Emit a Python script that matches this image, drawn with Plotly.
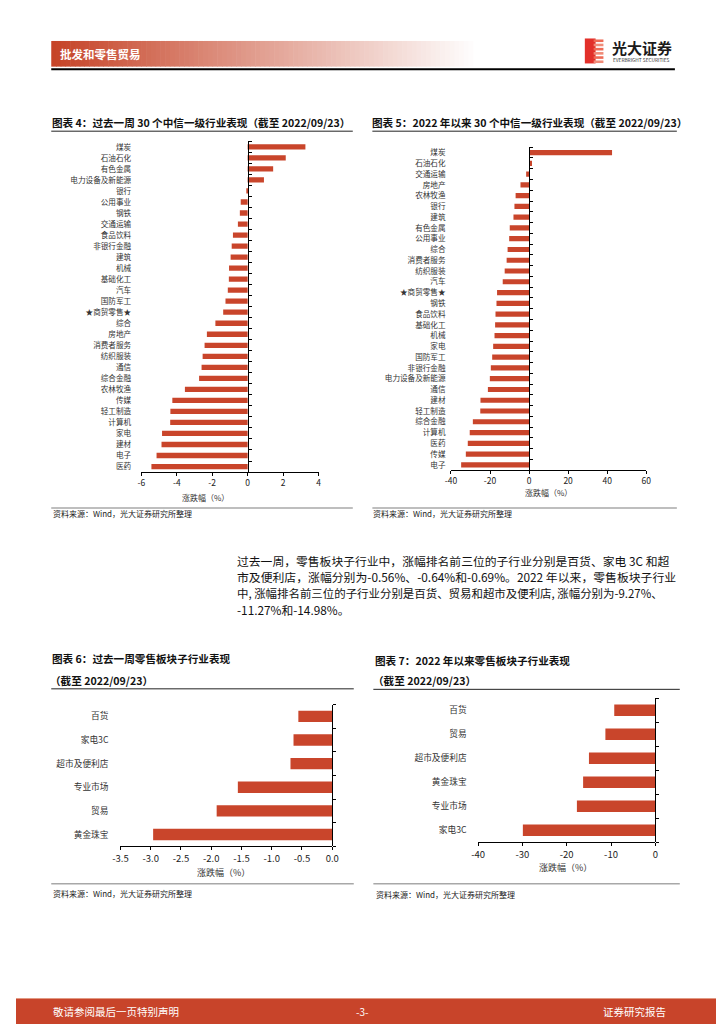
import plotly.graph_objects as go

# The page body has an 8px default margin; the figure is sized and positioned to compensate.
OFF = 8
PAGE_W, PAGE_H = 724, 1024
W, H = PAGE_W - OFF, PAGE_H - OFF
RED = "#C9452B"
FONT = "Noto Sans CJK SC"

# ---------------- data ----------------
week_industries = ["煤炭", "石油石化", "有色金属", "电力设备及新能源", "银行", "公用事业", "钢铁", "交通运输",
                   "食品饮料", "非银行金融", "建筑", "机械", "基础化工", "汽车", "国防军工", "★商贸零售★",
                   "综合", "房地产", "消费者服务", "纺织服装", "通信", "综合金融", "农林牧渔", "传媒",
                   "轻工制造", "计算机", "家电", "建材", "电子", "医药"]
week_returns = [3.26, 2.15, 1.44, 0.92, -0.05, -0.39, -0.44, -0.55, -0.83, -0.90, -0.96, -1.05, -1.06,
                -1.12, -1.25, -1.38, -1.82, -2.30, -2.43, -2.54, -2.60, -2.74, -3.54, -4.25, -4.36,
                -4.37, -4.83, -4.86, -5.14, -5.43]

ytd_industries = ["煤炭", "石油石化", "交通运输", "房地产", "农林牧渔", "银行", "建筑", "有色金属", "公用事业",
                  "综合", "消费者服务", "纺织服装", "汽车", "★商贸零售★", "钢铁", "食品饮料", "基础化工",
                  "机械", "家电", "国防军工", "非银行金融", "电力设备及新能源", "通信", "建材", "轻工制造",
                  "综合金融", "计算机", "医药", "传媒", "电子"]
ytd_returns = [42.5, 1.5, -1.5, -4.4, -6.9, -7.5, -8.0, -9.9, -10.2, -11.0, -11.5, -12.5, -13.5, -16.4,
               -16.7, -17.2, -17.4, -17.7, -18.4, -18.9, -19.6, -20.1, -21.1, -24.9, -25.0, -28.8,
               -30.4, -31.4, -32.4, -34.8]

retail_week_cats = ["百货", "家电3C", "超市及便利店", "专业市场", "贸易", "黄金珠宝"]
retail_week_vals = [-0.56, -0.64, -0.69, -1.56, -1.91, -2.96]

retail_ytd_cats = ["百货", "贸易", "超市及便利店", "黄金珠宝", "专业市场", "家电3C"]
retail_ytd_vals = [-9.27, -11.27, -14.98, -16.3, -17.7, -29.9]

week_ticks = [-6, -4, -2, 0, 2, 4]
ytd_ticks = [-40, -20, 0, 20, 40, 60]
retail_week_ticks = [-3.5, -3.0, -2.5, -2.0, -1.5, -1.0, -0.5, 0.0]
retail_ytd_ticks = [-40, -30, -20, -10, 0]

week_tick_text = ["-6", "-4", "-2", "0", "2", "4"]
ytd_tick_text = ["-40", "-20", "0", "20", "40", "60"]
retail_week_tick_text = ["-3.5", "-3.0", "-2.5", "-2.0", "-1.5", "-1.0", "-0.5", "0.0"]
retail_ytd_tick_text = ["-40", "-30", "-20", "-10", "0"]


def px(x):
    return (x - OFF) / W


def py(y):
    return 1 - (y - OFF) / H


fig = go.Figure()
layout = {}


def add_chart(i, cats, vals, xrange, ticks, ticktext, xpx, ypx, standoff, catsize, ticksize):
    n = len(cats)
    sx = "" if i == 1 else str(i)
    x0, x1 = px(xpx[0]), px(xpx[1])
    zero_pos = x0 + (0 - xrange[0]) / (xrange[1] - xrange[0]) * (x1 - x0)
    fig.add_trace(go.Bar(x=vals, y=list(range(n)), orientation="h", marker_color=RED,
                         marker_line_width=0, xaxis="x" + sx, yaxis="y" + sx,
                         showlegend=False, hoverinfo="x+text", text=cats, textposition="none"))
    layout["xaxis" + sx] = dict(domain=[x0, x1], range=xrange, anchor="y" + sx,
                                tickmode="array", tickvals=ticks, ticktext=ticktext,
                                ticks="outside", ticklen=3, tickcolor="#000", showline=True,
                                linecolor="#000", linewidth=1, showgrid=False, zeroline=False,
                                tickfont=dict(family=FONT, size=ticksize, color="#222"))
    layout["yaxis" + sx] = dict(domain=[py(ypx[1]), py(ypx[0])], range=[n - 0.5, -0.5],
                                anchor="free", position=zero_pos, side="left",
                                tickmode="array", tickvals=list(range(n)), ticktext=cats,
                                ticks="", showline=True, linecolor="#000", linewidth=1,
                                showgrid=False, zeroline=False, ticklabelstandoff=standoff,
                                minor=dict(tickmode="array", tickvals=[k - 0.5 for k in range(n + 1)],
                                           ticks="inside", ticklen=3, tickcolor="#000", showgrid=False),
                                tickfont=dict(family=FONT, size=catsize, color="#333"))


add_chart(1, week_industries, week_returns, [-6, 4], week_ticks, week_tick_text,
          (136, 317), (140.5, 471.5), 115, 7.6, 8.5)
add_chart(2, ytd_industries, ytd_returns, [-40, 60], ytd_ticks, ytd_tick_text,
          (452.3, 651.7), (146.3, 469.7), 82, 7.6, 8.5)
add_chart(3, retail_week_cats, retail_week_vals, [-3.5, 0], retail_week_ticks, retail_week_tick_text,
          (114.7, 331), (704.2, 846.2), 222, 8.7, 9.5)
add_chart(4, retail_ytd_cats, retail_ytd_vals, [-40, 0], retail_ytd_ticks, retail_ytd_tick_text,
          (480, 661), (698, 842), 187, 8.7, 9.5)

shapes = []
annotations = []


def hline(x0, x1, y, color, width):
    shapes.append(dict(type="line", xref="paper", yref="paper", x0=px(x0), x1=px(x1),
                       y0=py(y), y1=py(y), line=dict(color=color, width=width)))


def rect(x0, x1, y0, y1, color):
    shapes.append(dict(type="rect", xref="paper", yref="paper", x0=px(x0), x1=px(x1),
                       y0=py(y1), y1=py(y0), fillcolor=color, line=dict(width=0), layer="below"))


def text(x, y, s, size, color="#000", xanchor="left", bold=False):
    annotations.append(dict(xref="paper", yref="paper", x=px(x), y=py(y), text=("<b>%s</b>" % s) if bold else s,
                            showarrow=False, xanchor=xanchor, yanchor="middle",
                            font=dict(family=FONT, size=size, color=color)))


# ---------- header gradient band ----------
steps = 90
gx0, gx1 = 44, 480
c0 = (198, 68, 40)
for k in range(steps):
    t = k / (steps - 1)
    c = tuple(int(c0[j] + (255 - c0[j]) * t) for j in range(3))
    xa = gx0 + (gx1 - gx0) * k / steps
    xb = gx0 + (gx1 - gx0) * (k + 1) / steps + 0.6
    rect(xa, xb, 40, 65.7, "rgb(%d,%d,%d)" % c)
text(51, 53, "批发和零售贸易", 11.5, "#fff", bold=True)
hline(44, 681, 68.3, "#000", 2)

# ---------- logo ----------
rect(589, 600, 37.5, 62.5, "#E2302A")
for k in range(6):
    yy = 38.5 + k * 4.2
    rect(598, 608, yy, yy + 2.6, "#EE6A55" if k % 2 == 0 else "#F08B78")
text(647, 46.5, "光大证券", 15, "#1a1a1a", xanchor="center", bold=True)
text(646.5, 59, "EVERBRIGHT SECURITIES", 4.8, "#333", xanchor="center")

# ---------- chart titles ----------
text(43, 121.7, "图表 4：过去一周 30 个中信一级行业表现（截至 2022/09/23）", 10.6, "#111", bold=True)
hline(44, 352, 130.3, "#222", 1)
text(370, 121.7, "图表 5：2022 年以来 30 个中信一级行业表现（截至 2022/09/23）", 10.6, "#111", bold=True)
hline(372, 683, 130.3, "#222", 1)

text(43, 658, "图表 6：过去一周零售板块子行业表现", 10.6, "#111", bold=True)
text(41, 680, "（截至 2022/09/23）", 10.6, "#111", bold=True)
hline(44, 353, 688.5, "#222", 1)
text(373, 660, "图表 7：2022 年以来零售板块子行业表现", 10.6, "#111", bold=True)
text(371, 680.5, "（截至 2022/09/23）", 10.6, "#111", bold=True)
hline(373, 686, 689, "#222", 1)

# ---------- axis titles ----------
text(202, 496.7, "涨跌幅（%）", 8, "#333", xanchor="center")
text(552, 491.7, "涨跌幅（%）", 8, "#333", xanchor="center")
text(220, 872, "涨跌幅（%）", 9, "#333", xanchor="center")
text(569, 867.7, "涨跌幅（%）", 9, "#333", xanchor="center")

# ---------- sources ----------
hline(44, 352, 507.5, "#A8A8A8", 1.5)
text(44, 512.8, "资料来源：Wind，光大证券研究所整理", 8, "#222")
hline(372, 683, 507.5, "#A8A8A8", 1.5)
text(371, 513, "资料来源：Wind，光大证券研究所整理", 8, "#222")
hline(44, 353, 883.7, "#A8A8A8", 1.5)
text(44, 893.3, "资料来源：Wind，光大证券研究所整理", 8, "#222")
hline(373, 686, 883.7, "#A8A8A8", 1.5)
text(374, 894.3, "资料来源：Wind，光大证券研究所整理", 8, "#222")

# ---------- body paragraph ----------
body_lines = [
    "过去一周，零售板块子行业中，涨幅排名前三位的子行业分别是百货、家电 3C 和超",
    "市及便利店，涨幅分别为-0.56%、-0.64%和-0.69%。2022 年以来，零售板块子行业",
    "中, 涨幅排名前三位的子行业分别是百货、贸易和超市及便利店, 涨幅分别为-9.27%、",
    "-11.27%和-14.98%。",
]
body_sizes = [11.8, 11.85, 11.45, 11.8]
for k, line in enumerate(body_lines):
    text(232, 560 + k * 16.5, line, body_sizes[k], "#111")

# ---------- footer ----------
rect(OFF, PAGE_W, 998, PAGE_H, "#C8442A")
hline(OFF, PAGE_W, 998.5, "#E39B86", 1)
text(44, 1011.5, "敬请参阅最后一页特别声明", 10.5, "#fff")
text(362, 1011.5, "-3-", 10, "#fff", xanchor="center")
text(674, 1011.5, "证券研究报告", 10.5, "#fff", xanchor="right")

layout.update(dict(width=W, height=H, margin=dict(l=0, r=0, t=0, b=0),
                   paper_bgcolor="#fff", plot_bgcolor="rgba(0,0,0,0)",
                   bargap=0.52, showlegend=False, shapes=shapes, annotations=annotations,
                   font=dict(family=FONT)))
fig.update_layout(**layout)
fig.write_html("out.html")
